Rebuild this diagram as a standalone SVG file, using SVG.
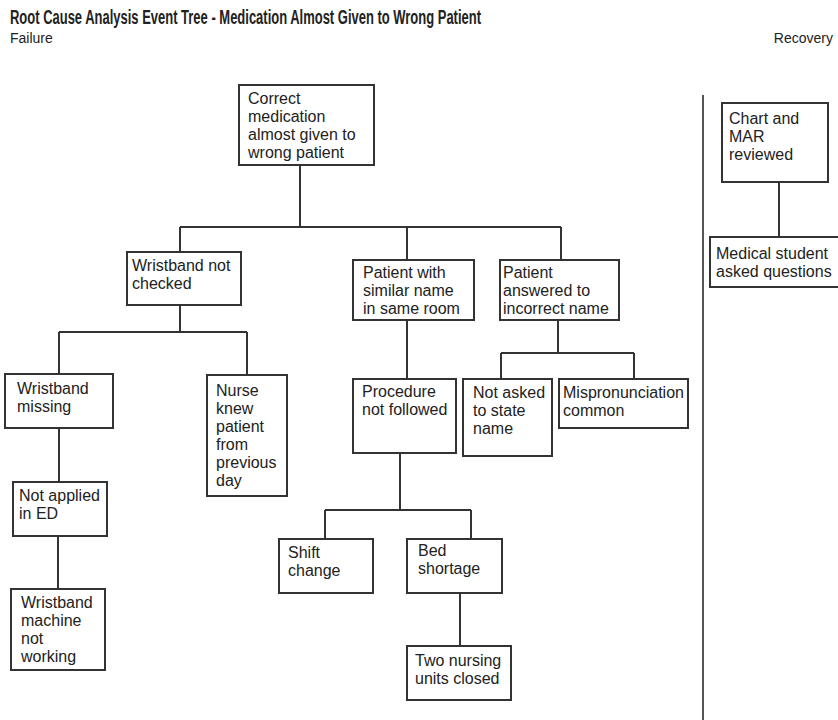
<svg xmlns="http://www.w3.org/2000/svg" width="838" height="720" viewBox="0 0 838 720">
<style>
.box{fill:#fff;stroke:#333;stroke-width:2}
.t{font-family:"Liberation Sans",Arial,Helvetica,sans-serif;font-size:16px;fill:#222}
.title{font-family:"Liberation Sans",Arial,Helvetica,sans-serif;font-size:20px;font-weight:bold;fill:#222}
.hdr{font-family:"Liberation Sans",Arial,Helvetica,sans-serif;font-size:14px;fill:#222}
.c{fill:none;stroke:#333;stroke-width:2}
.sep{fill:none;stroke:#555;stroke-width:2}
</style>
<rect width="838" height="720" fill="#fff"/>
<text class="title" x="10" y="24" textLength="471" lengthAdjust="spacingAndGlyphs">Root Cause Analysis Event Tree - Medication Almost Given to Wrong Patient</text>
<text class="hdr" x="10" y="43">Failure</text>
<text class="hdr" x="833" y="43" text-anchor="end">Recovery</text>

<g id="connectors">
<path class="c" d="M300 165V227M180 227H561M180 227V252M407 227V260M561 227V260"/>
<path class="c" d="M180 305V332M59 332H247M59 332V374M247 332V375"/>
<path class="c" d="M407 320V379"/>
<path class="c" d="M558 320V353M501 353H634M501 353V379M634 353V379"/>
<path class="c" d="M59 428V482"/>
<path class="c" d="M58 536V589"/>
<path class="c" d="M400 453V510M325 510H471M325 510V539M471 510V539"/>
<path class="c" d="M460 593V646"/>
<path class="c" d="M779 182V237"/>
<path class="sep" d="M703 95V720"/>
</g>

<g id="root"><rect class="box" x="239" y="85" width="135" height="80"/>
<text class="t" x="248"><tspan x="248" y="104">Correct</tspan><tspan x="248" y="122">medication</tspan><tspan x="248" y="140">almost given to</tspan><tspan x="248" y="158">wrong patient</tspan></text></g>

<g id="wristband-not-checked"><rect class="box" x="127" y="252" width="114" height="53"/>
<text class="t"><tspan x="132" y="271">Wristband not</tspan><tspan x="132" y="289">checked</tspan></text></g>

<g id="patient-similar-name"><rect class="box" x="353" y="260" width="121" height="60"/>
<text class="t"><tspan x="363" y="278">Patient with</tspan><tspan x="363" y="296">similar name</tspan><tspan x="363" y="314">in same room</tspan></text></g>

<g id="patient-answered"><rect class="box" x="500" y="260" width="119" height="60"/>
<text class="t"><tspan x="503" y="278">Patient</tspan><tspan x="503" y="296">answered to</tspan><tspan x="503" y="314">incorrect name</tspan></text></g>

<g id="wristband-missing"><rect class="box" x="5" y="374" width="108" height="54"/>
<text class="t"><tspan x="17" y="394">Wristband</tspan><tspan x="17" y="412">missing</tspan></text></g>

<g id="nurse-knew"><rect class="box" x="207" y="375" width="80" height="121"/>
<text class="t"><tspan x="216" y="396">Nurse</tspan><tspan x="216" y="414">knew</tspan><tspan x="216" y="432">patient</tspan><tspan x="216" y="450">from</tspan><tspan x="216" y="468">previous</tspan><tspan x="216" y="486">day</tspan></text></g>

<g id="procedure-not-followed"><rect class="box" x="353" y="379" width="103" height="74"/>
<text class="t"><tspan x="362" y="397">Procedure</tspan><tspan x="362" y="415">not followed</tspan></text></g>

<g id="not-asked"><rect class="box" x="463" y="379" width="89" height="77"/>
<text class="t"><tspan x="473" y="398">Not asked</tspan><tspan x="473" y="416">to state</tspan><tspan x="473" y="434">name</tspan></text></g>

<g id="mispronunciation"><rect class="box" x="559" y="379" width="129" height="49"/>
<text class="t"><tspan x="563" y="398">Mispronunciation</tspan><tspan x="563" y="416">common</tspan></text></g>

<g id="not-applied-ed"><rect class="box" x="13" y="482" width="94" height="54"/>
<text class="t"><tspan x="19" y="501">Not applied</tspan><tspan x="19" y="519">in ED</tspan></text></g>

<g id="wristband-machine"><rect class="box" x="11" y="589" width="94" height="81"/>
<text class="t"><tspan x="21" y="608">Wristband</tspan><tspan x="21" y="626">machine</tspan><tspan x="21" y="644">not</tspan><tspan x="21" y="662">working</tspan></text></g>

<g id="shift-change"><rect class="box" x="279" y="539" width="94" height="54"/>
<text class="t"><tspan x="288" y="558">Shift</tspan><tspan x="288" y="576">change</tspan></text></g>

<g id="bed-shortage"><rect class="box" x="407" y="539" width="95" height="54"/>
<text class="t"><tspan x="418" y="556">Bed</tspan><tspan x="418" y="574">shortage</tspan></text></g>

<g id="two-units-closed"><rect class="box" x="407" y="646" width="104" height="54"/>
<text class="t"><tspan x="415" y="666">Two nursing</tspan><tspan x="415" y="684">units closed</tspan></text></g>

<g id="chart-mar-reviewed"><rect class="box" x="722" y="103" width="106" height="79"/>
<text class="t"><tspan x="729" y="124">Chart and</tspan><tspan x="729" y="142">MAR</tspan><tspan x="729" y="160">reviewed</tspan></text></g>

<g id="medical-student"><rect class="box" x="710" y="237" width="135" height="50"/>
<text class="t"><tspan x="716" y="259">Medical student</tspan><tspan x="716" y="277">asked questions</tspan></text></g>
</svg>
